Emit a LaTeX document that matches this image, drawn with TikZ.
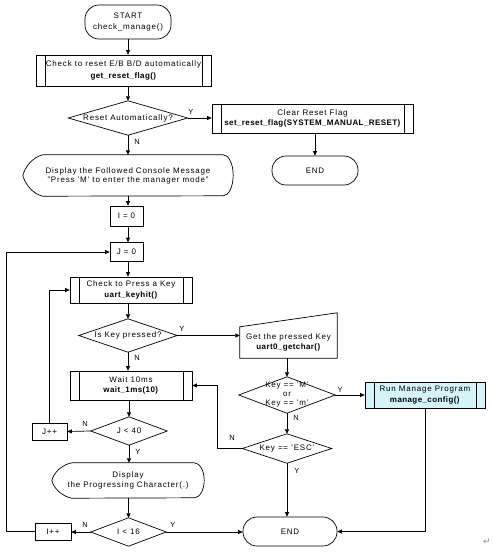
\documentclass[tikz,border=0pt]{standalone}
\usepackage{fontspec}
\setmainfont{Liberation Sans}[LetterSpace=10,BoldFeatures={LetterSpace=5}]
\newfontfamily\symfont{DejaVu Sans}
\usetikzlibrary{calc,arrows.meta}
\definecolor{runfill}{HTML}{D4F4FA}
\tikzset{
	line/.style={line width=0.7pt},
	arrow/.style={line, -{Triangle[length=4.5pt,width=4pt]}},
	free/.style={rectangle, inner sep=0pt, align=center, font=\fontsize{8}{10.5}\selectfont},
	box/.style={free, draw, line},
	term/.style={box, rounded corners=14pt},
	subproc/.style={box, path picture={
		\draw[line] ([xshift=9pt]path picture bounding box.north west) -- ([xshift=9pt]path picture bounding box.south west);
		\draw[line] ([xshift=-9pt]path picture bounding box.north east) -- ([xshift=-9pt]path picture bounding box.south east);}},
	lbl/.style={inner sep=0pt, font=\fontsize{7.5}{9}\selectfont}
}
\def\decishape(#1){\draw[line] (#1.north) -- (#1.east) -- (#1.south) -- (#1.west) -- cycle;}
\def\dispshape(#1)(#2){\draw[line] ($(#1.north west)+(20,0)$) -- ($(#1.north east)+(-10,0)$) arc[start angle=90,end angle=-90,x radius=10pt,y radius=#2pt] -- ($(#1.south west)+(20,0)$) .. controls ($(#1.south west)+(10,-2)$) and ($(#1.west)+(2,8)$) .. (#1.west) .. controls ($(#1.west)+(2,-8)$) and ($(#1.north west)+(10,2)$) .. cycle;}
\def\manualshape(#1)(#2){\draw[line] (#1.north west) -- ($(#1.north east)+(0,-#2)$) -- (#1.south east) -- (#1.south west) -- cycle;}

\begin{document}
\begin{tikzpicture}[x=1pt,y=-1pt]
		%%%%% START %%%%%
		\useasboundingbox (0,0) rectangle (493,558);
		
		\node[term, minimum width=86pt, minimum height=34pt] (start) at (128,22) {START\\[1pt]check\_manage()};
		\node[subproc, minimum width=175pt, minimum height=31pt] (getflag) at (123.5,70.5) {Check to reset E/B B/D automatically\\[1pt]\textbf{get\_reset\_flag()}};
		\node[free, minimum width=119pt, minimum height=34pt] (resetq) at (128,118) {Reset Automatically?};
		\decishape(resetq);
		\node[subproc, minimum width=201pt, minimum height=29pt] (clearflag) at (312.5,118.5) {Clear Reset Flag\\\textbf{set\_reset\_flag(SYSTEM\_MANUAL\_RESET)}};
		\node[term, minimum width=86pt, minimum height=29pt] (endA) at (315,170.5) {END};
		
		\node[free, minimum width=210pt, minimum height=41pt] (dispA) at (128,175.5) {Display the Followed Console Message\\[-1.5pt]"Press 'M' to enter the manager mode"};
		\dispshape(dispA)(20.5);
		\node[box, minimum width=33pt, minimum height=20pt] (iinit) at (126.5,216) {I = 0};
		\node[box, minimum width=33pt, minimum height=19pt] (jinit) at (126.5,252) {J = 0};
		
		\node[subproc, minimum width=122pt, minimum height=26pt] (keyhit) at (131,290) {Check to Press a Key\\\textbf{uart\_keyhit()}};
		\node[free, minimum width=98pt, minimum height=33pt] (keyq) at (128,335.5) {Is Key pressed?};
		\decishape(keyq);
		\node[free, minimum width=97pt, minimum height=31pt] (getkey) at (288.5,342.5) {Get the pressed Key\\\textbf{uart0\_getchar()}};
		\manualshape(getkey)(14);
		\node[free, minimum width=96pt, minimum height=36pt] (mq) at (287,395) {Key == 'M'\\[-1.5pt]or\\[-1.5pt]Key == 'm'};
		\decishape(mq);
		\node[subproc, fill=runfill, minimum width=120pt, minimum height=26pt] (runmgr) at (425,395) {Run Manage Program\\\textbf{manage\_config()}};
		\node[free, minimum width=89pt, minimum height=29pt] (escq) at (287,448.5) {Key == 'ESC'};
		\decishape(escq);
		
		\node[subproc, minimum width=122pt, minimum height=29pt] (wait) at (131,385.5) {Wait 10ms\\\textbf{wait\_1ms(10)}};
		\node[free, minimum width=76pt, minimum height=28pt] (jq) at (129,431) {J < 40};
		\decishape(jq);
		\node[box, minimum width=35pt, minimum height=17pt] (jinc) at (49.5,431.5) {J++};
		\node[free, minimum width=152pt, minimum height=35pt] (dispB) at (128,480.5) {Display\\the Progressing Character(.)};
		\dispshape(dispB)(17.5);
		\node[free, minimum width=75pt, minimum height=28pt] (iq) at (128.5,532) {I < 16};
		\decishape(iq);
		\node[box, minimum width=36pt, minimum height=17pt] (iinc) at (53,531.5) {I++};
		\node[term, minimum width=94pt, minimum height=29pt] (endB) at (290,531.5) {END};
		
		% connectors
		\draw[arrow] (start.south) -- (start.south |- getflag.north);
		\draw[arrow] (getflag.south -| resetq.north) -- (resetq.north);
		\draw[arrow] (resetq.east) -- (resetq.east -| clearflag.west);
		\draw[arrow] (clearflag.south -| endA.north) -- (endA.north);
		\draw[arrow] (resetq.south) -- (dispA.north);
		\draw[arrow] (dispA.south) -- (dispA.south |- iinit.north);
		\draw[arrow] (dispA.south |- iinit.south) -- (dispA.south |- jinit.north);
		\draw[arrow] (dispA.south |- jinit.south) -- (dispA.south |- keyhit.north);
		\draw[arrow] (keyq.north |- keyhit.south) -- (keyq.north);
		\draw[arrow] (keyq.east) -- (keyq.east -| getkey.west);
		\draw[arrow] (keyq.south) -- (keyq.south |- wait.north);
		\draw[arrow] (getkey.south -| mq.north) -- (mq.north);
		\draw[arrow] (mq.east) -- (mq.east -| runmgr.west);
		\draw[arrow] (mq.south) -- (escq.north);
		\draw[arrow] (escq.west) -- ++(-24.5,0) |- (wait.east);
		\draw[arrow] (escq.south) -- (escq.south |- endB.north);
		\draw[arrow] (runmgr.south) |- (endB.east);
		\draw[arrow] (jq.north |- wait.south) -- (jq.north);
		\draw[arrow] (jq.west) -- (jinc.east);
		\draw[arrow] (jinc.north) |- (keyhit.west);
		\draw[arrow] (jq.south) -- (jq.south |- dispB.north);
		\draw[arrow] (iq.north |- dispB.south) -- (iq.north);
		\draw[arrow] (iq.west) -- (iq.west -| iinc.east);
		\draw[arrow] (iq.east) -- (iq.east -| endB.west);
		\draw[arrow] (iinc.west) -- ++(-28,0) |- (jinit.west);
		
		% Y / N
		\node[lbl] (yA) at (191,112) {Y};
		\node[lbl] (nA) at (137,142) {N};
		\node[lbl] (yB) at (182,329) {Y};
		\node[lbl] (nB) at (137,358) {N};
		\node[lbl] (yC) at (340,390) {Y};
		\node[lbl] (nC) at (296,418) {N};
		\node[lbl] (nD) at (232,438) {N};
		\node[lbl] (yD) at (297,471) {Y};
		\node[lbl] (nE) at (85,424) {N};
		\node[lbl] (yE) at (138,452) {Y};
		\node[lbl] (nF) at (85,525) {N};
		\node[lbl] (yF) at (173,525) {Y};
		
		\node[inner sep=0pt, text=black!45, font=\symfont\fontsize{9}{10}\selectfont] (para) at (487,542) {↵};
		%%%%% END %%%%%
	\end{tikzpicture}
\end{document}
